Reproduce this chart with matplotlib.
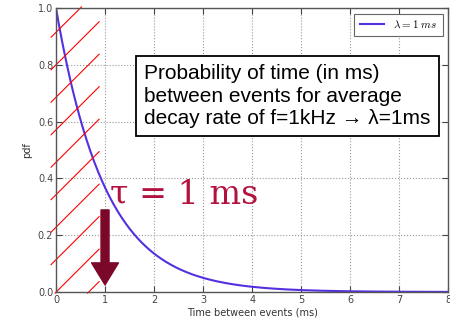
import matplotlib

matplotlib.use("Agg")
import matplotlib.pyplot as plt
import numpy as np

# exponential pdf, lambda = 1 per ms
rateLambda = 1.0
timeMs = np.linspace(0.0, 8.0, 400)
pdfValues = rateLambda * np.exp(-rateLambda * timeMs)
xTicks = [0, 1, 2, 3, 4, 5, 6, 7, 8]
yTicks = [0.0, 0.2, 0.4, 0.6, 0.8, 1.0]
legendLabel = r"$\lambda = 1\ ms$"
boxText = "Probability of time (in ms)\nbetween events for average\ndecay rate of f=1kHz \u2192 \u03bb=1ms"
tauText = "\u03c4 = 1 ms"

plt.rcParams["mathtext.fontset"] = "cm"
plt.rcParams["font.family"] = ["Liberation Sans", "DejaVu Sans"]

fig = plt.figure(figsize=(4.5, 3.23), dpi=100)
ax = fig.add_axes([0.1244, 0.096, 0.872, 0.879])

ax.plot(timeMs, pdfValues, color="#5530e0", linewidth=1.5, label=legendLabel)
ax.set_xlim(0, 8)
ax.set_ylim(0, 1)
ax.set_xticks(xTicks)
ax.set_yticks(yTicks)
ax.set_xticklabels([str(t) for t in xTicks])
ax.set_yticklabels([f"{t:.1f}" for t in yTicks])
ax.tick_params(
    direction="in",
    top=True,
    right=True,
    length=4,
    width=0.8,
    labelsize=7,
    colors="#444444",
    pad=2,
)
for spine in ax.spines.values():
    spine.set_color("#555555")
    spine.set_linewidth(1.0)
ax.grid(linestyle=":", color="#999999", linewidth=0.8)
ax.set_xlabel("Time between events (ms)", fontsize=7, color="#333333", labelpad=2,
              family="DejaVu Sans")
ax.set_ylabel("pdf", fontsize=7, color="#333333", labelpad=4, family="DejaVu Sans")
for lab in ax.get_xticklabels() + ax.get_yticklabels():
    lab.set_family("DejaVu Sans")

# hand drawn red hatching over the first millisecond
hatchSlope = 0.1725
xLeft, xRight = -0.1, 0.88
yLow, yHigh = -0.004, 1.004
for y0 in np.arange(-0.018, 1.0, 0.1144):
    xa, xb = xLeft, xRight
    if y0 < yLow:
        xa = xLeft + (yLow - y0) / hatchSlope
    if y0 + hatchSlope * (xRight - xLeft) > yHigh:
        xb = xLeft + (yHigh - y0) / hatchSlope
    ya = y0 + hatchSlope * (xa - xLeft)
    yb = y0 + hatchSlope * (xb - xLeft)
    ax.plot([xa, xb], [ya, yb], color="red", linewidth=0.8, clip_on=False)
# lines entering from the bottom edge
for y0 in np.arange(-0.018 - 0.1144, -0.3, -0.1144):
    xa = xLeft + (yLow - y0) / hatchSlope
    if xa >= xRight:
        continue
    yb = y0 + hatchSlope * (xRight - xLeft)
    ax.plot([xa, xRight], [yLow, yb], color="red", linewidth=0.8, clip_on=False)

leg = ax.legend(loc="upper right", fontsize=8, fancybox=False, framealpha=1,
                borderpad=0.5, handlelength=2.2)
leg.get_frame().set_edgecolor("#666666")
leg.get_frame().set_linewidth(0.8)

ax.text(
    1.8, 0.69, boxText, fontsize=15, color="black", va="center", ha="left",
    linespacing=1.22,
    bbox=dict(boxstyle="square,pad=0.38", facecolor="white", edgecolor="black", linewidth=1.3),
)

ax.text(1.1, 0.313, tauText, fontsize=24, color="#b3123e", family="DejaVu Serif",
        ha="left", va="baseline")

ax.annotate(
    "",
    xy=(1.0, 0.025),
    xytext=(1.0, 0.289),
    arrowprops=dict(arrowstyle="simple,head_width=1.21,head_length=0.99,tail_width=0.36",
                    color="#7b0828", mutation_scale=16, shrinkA=0, shrinkB=0),
)

fig.savefig("out.png", dpi=100)
